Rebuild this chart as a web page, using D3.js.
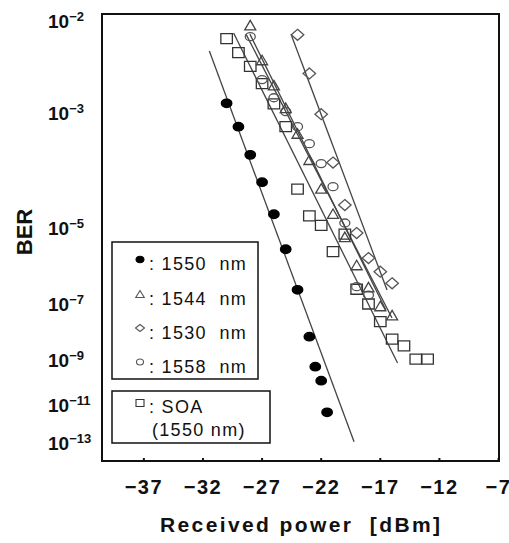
<!DOCTYPE html>
<html><head><meta charset="utf-8">
<script src="https://cdn.jsdelivr.net/npm/d3@7"></script>
<style>body{margin:0;background:#fff}svg{display:block}text{font-family:"Liberation Sans",Arial,sans-serif}</style>
</head><body>
<svg id="c" width="509" height="543"></svg>
<script>
// ---- data ----
const xTicks = [-37, -32, -27, -22, -17, -12, -7];
const yTicks = [1e-2, 1e-3, 1e-5, 1e-7, 1e-9, 1e-11, 1e-13];
const yTickExp = ["-2", "-3", "-5", "-7", "-9", "-11", "-13"];

const power1550 = [-30, -29, -28, -27, -26, -25, -24, -23, -22.5, -22, -21.5];
const ber1550 = [1.32e-3, 6.4e-4, 2.4e-4, 8.2e-5, 1.95e-5, 3.15e-6, 2.6e-7, 7.8e-9, 5.5e-10, 1.4e-10, 4.6e-12];

const power1544 = [-28, -27, -26, -25, -24, -23, -22, -21, -20, -19, -18, -17, -16];
const ber1544 = [9.2e-3, 4.2e-3, 2.2e-3, 1.15e-3, 5.1e-4, 2.0e-4, 6.3e-5, 2.0e-5, 6.2e-6, 1.26e-6, 3.1e-7, 8.4e-8, 4.3e-8];

const power1530 = [-24, -23, -22, -21, -20, -19, -18, -17, -16];
const ber1530 = [7.5e-3, 3.0e-3, 9.5e-4, 1.8e-4, 3.0e-5, 7.6e-6, 1.9e-6, 8.4e-7, 4.0e-7];

const power1558 = [-28, -27, -26, -25, -24, -23, -22, -21, -20, -19, -18];
const ber1558 = [7.2e-3, 2.56e-3, 1.55e-3, 1.03e-3, 6.4e-4, 3.6e-4, 1.73e-4, 6.8e-5, 1.27e-5, 3.2e-7, 1.82e-7];

const powerSOA = [-30, -29, -28, -27, -26, -25, -24, -23, -22, -21, -20, -19, -18, -17, -16, -15, -14, -13];
const berSOA = [6.9e-3, 5.0e-3, 3.6e-3, 2.3e-3, 1.3e-3, 6.4e-4, 6.1e-5, 1.8e-5, 1.13e-5, 2.75e-6, 7.2e-6, 2.7e-7, 9.7e-8, 2.6e-8, 6.4e-9, 3.6e-9, 1.1e-9, 1.1e-9];

// fitted lines: [power, BER] end points
const fit1550 = [[-31.46, 5.2e-3], [-19.22, 1.2e-13]];
const fit1530 = [[-24.55, 7.6e-3], [-16.43, 2.56e-7]];
const fitSOA = [[-29.41, 7.8e-3], [-15.54, 7.8e-10]];
const fit1544 = [[-28.36, 7.6e-3], [-16.01, 3.45e-8]];
const fit1558 = [[-28.03, 7.6e-3], [-16.53, 6.3e-8]];

const legendLabels = [": 1550  nm", ": 1544  nm", ": 1530  nm", ": 1558  nm"];
const legendSOA = [": SOA", "(1550 nm)"];
const xTitle = "Received power  [dBm]";
const yTitle = "BER";

// ---- layout ----
const L = 102, R = 499, T = 14, B = 461;
const svg = d3.select("#c");
const x = d3.scaleLinear().domain([-40.54, -6.96]).range([L, R]);
// BER axis: linear in log10(-log10(BER))
const yT = d3.scaleLinear().domain([0.287355, 1.148295]).range([T, B]);
const y = v => yT(Math.log10(-Math.log10(v)));

// frame
svg.append("rect").attr("x", L).attr("y", T).attr("width", R - L).attr("height", B - T)
  .attr("fill", "none").attr("stroke", "#111").attr("stroke-width", 2);

// x ticks (small marks inside bottom)
svg.append("g").selectAll("line").data(xTicks).join("line")
  .attr("x1", d => x(d)).attr("x2", d => x(d)).attr("y1", B - 3).attr("y2", B)
  .attr("stroke", "#111").attr("stroke-width", 2);
svg.append("g").selectAll("text").data(xTicks).join("text")
  .attr("x", d => x(d)).attr("y", 494).attr("text-anchor", "middle")
  .attr("font-size", 20).attr("font-weight", "bold").attr("letter-spacing", 1.5).attr("fill", "#111")
  .text(d => "\u2212" + Math.abs(d));

// y tick labels
const yl = svg.append("g").selectAll("text").data(yTicks).join("text")
  .attr("x", 48).attr("y", d => y(d) + 7).attr("font-size", 19).attr("font-weight", "bold").attr("fill", "#111");
yl.append("tspan").text("10");
yl.append("tspan").attr("font-size", 13).attr("dy", -7).text((d, i) => yTickExp[i].replace("-", "\u2212"));

// titles
svg.append("text").attr("x", 300).attr("y", 532).attr("text-anchor", "middle")
  .attr("font-size", 21).attr("font-weight", "bold").attr("textLength", 280).attr("lengthAdjust", "spacing")
  .attr("fill", "#111").style("white-space", "pre").text(xTitle);
svg.append("text").attr("transform", "translate(32,232) rotate(-90)").attr("text-anchor", "middle")
  .attr("font-size", 22).attr("font-weight", "bold").attr("fill", "#111").text(yTitle);

// fitted lines
const line = d3.line().x(d => x(d[0])).y(d => y(d[1]));
svg.append("g").selectAll("path").data([fit1550, fit1530, fitSOA, fit1544, fit1558]).join("path")
  .attr("d", line).attr("fill", "none").attr("stroke", "#444").attr("stroke-width", 1.3);

// marker shapes
function shape(type, w, h) {
  if (type === "tri") return `M0,${-h/2}L${w/2},${h/2}L${-w/2},${h/2}Z`;
  if (type === "dia") return `M0,${-h/2}L${w/2},0L0,${h/2}L${-w/2},0Z`;
  if (type === "sq") return `M${-w/2},${-h/2}h${w}v${h}h${-w}Z`;
  const rx = w/2, ry = h/2;
  return `M${-rx},0A${rx},${ry} 0 1,0 ${rx},0A${rx},${ry} 0 1,0 ${-rx},0Z`;
}
const series = [
  {p: powerSOA, b: berSOA, type: "sq", w: 11.5, h: 10, fill: "none", stroke: "#333"},
  {p: power1558, b: ber1558, type: "ell", w: 10, h: 8, fill: "none", stroke: "#555"},
  {p: power1530, b: ber1530, type: "dia", w: 12.5, h: 11, fill: "none", stroke: "#555"},
  {p: power1544, b: ber1544, type: "tri", w: 11, h: 9.5, fill: "none", stroke: "#444"},
  {p: power1550, b: ber1550, type: "ell", w: 10.5, h: 8.5, fill: "#000", stroke: "#000"}
];
series.forEach(s => {
  svg.append("g").selectAll("path").data(s.p.map((p, i) => [p, s.b[i]])).join("path")
    .attr("transform", d => `translate(${x(d[0])},${y(d[1])})`)
    .attr("d", shape(s.type, s.w, s.h))
    .attr("fill", s.fill).attr("stroke", s.stroke).attr("stroke-width", 1.3);
});

// legend
svg.append("rect").attr("x", 112).attr("y", 242).attr("width", 146).attr("height", 137)
  .attr("fill", "#fff").attr("stroke", "#111").attr("stroke-width", 1.5);
svg.append("rect").attr("x", 112).attr("y", 391).attr("width", 158).attr("height", 52)
  .attr("fill", "#fff").attr("stroke", "#111").attr("stroke-width", 1.5);
const legRows = [263.5, 298, 332, 366];
const legShapes = [
  {type: "ell", w: 8, h: 6.5, fill: "#000", stroke: "#000"},
  {type: "tri", w: 8.5, h: 7, fill: "none", stroke: "#555"},
  {type: "dia", w: 9, h: 7, fill: "none", stroke: "#555"},
  {type: "ell", w: 7, h: 6, fill: "none", stroke: "#555"}
];
legendLabels.forEach((t, i) => {
  const s = legShapes[i];
  svg.append("path").attr("transform", `translate(140,${legRows[i] - 4})`).attr("d", shape(s.type, s.w, s.h))
    .attr("fill", s.fill).attr("stroke", s.stroke).attr("stroke-width", 1.1);
  svg.append("text").attr("x", 149).attr("y", legRows[i] + 6.5).attr("font-size", 18).attr("letter-spacing", 1.3)
    .attr("fill", "#111").style("white-space", "pre").text(t);
});
svg.append("path").attr("transform", "translate(140,403)").attr("d", shape("sq", 8, 7))
  .attr("fill", "none").attr("stroke", "#333").attr("stroke-width", 1.1);
svg.append("text").attr("x", 149).attr("y", 413).attr("font-size", 18).attr("letter-spacing", 1.3)
  .attr("fill", "#111").style("white-space", "pre").text(legendSOA[0]);
svg.append("text").attr("x", 152).attr("y", 436).attr("font-size", 18).attr("letter-spacing", 1.3)
  .attr("fill", "#111").style("white-space", "pre").text(legendSOA[1]);
</script>
</body></html>
